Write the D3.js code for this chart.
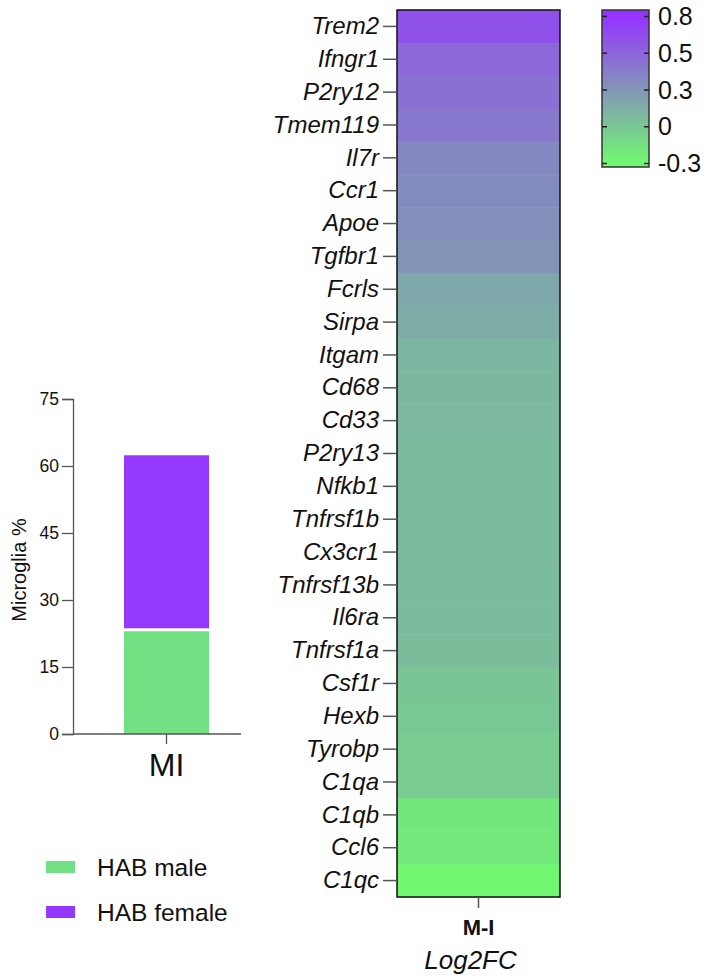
<!DOCTYPE html>
<html>
<head>
<meta charset="utf-8">
<script src="https://cdn.jsdelivr.net/npm/d3@7"></script>
<style>
  html, body { margin: 0; padding: 0; background: #fff; }
  svg { display: block; font-family: "Liberation Sans", Arial, Helvetica, sans-serif; }
</style>
</head>
<body>
<svg id="chart" width="707" height="978"></svg>
<script>
// Stacked bar: share of microglia by group
const barCategories = ["MI"];
const barSeries = ["HAB male", "HAB female"];
const barValues = [[23.0, 39.4]];          // per category, per series
const barColors = ["#73e083", "#9538ff"];
const barTicks = [0, 15, 30, 45, 60, 75];

// Heatmap: log2 fold change per gene
const heatColumns = ["M-I"];
const genes = ["Trem2", "Ifngr1", "P2ry12", "Tmem119", "Il7r", "Ccr1", "Apoe", "Tgfbr1",
  "Fcrls", "Sirpa", "Itgam", "Cd68", "Cd33", "P2ry13", "Nfkb1", "Tnfrsf1b", "Cx3cr1",
  "Tnfrsf13b", "Il6ra", "Tnfrsf1a", "Csf1r", "Hexb", "Tyrobp", "C1qa", "C1qb", "Ccl6", "C1qc"];
const log2fc = [0.64, 0.50, 0.46, 0.415, 0.33, 0.305, 0.28, 0.26,
  0.147, 0.124, 0.068, 0.057, 0.05, 0.045, 0.045, 0.04, 0.04,
  0.035, 0.035, 0.03, -0.01, -0.032, -0.05, -0.054, -0.2, -0.21, -0.29];
const colorDomain = [-0.3, 0.8];
const colorTickValues = [0.8, 0.525, 0.25, -0.025, -0.3];
const colorTickLabels = ["0.8", "0.5", "0.3", "0", "-0.3"];

const svg = d3.select("#chart");
const axisGrey = "#555";
const ink = "#111";

// ---------- Bar chart ----------
const by = d3.scaleLinear().domain([0, 75]).range([734, 399]);
const bx = d3.scaleBand().domain(barCategories).range([73, 260])
  .paddingInner(0).paddingOuter(0.6);

const stackData = barCategories.map((c, i) => {
  const o = { cat: c };
  barSeries.forEach((s, j) => o[s] = barValues[i][j]);
  return o;
});
const stacked = d3.stack().keys(barSeries)(stackData);
const segGap = 3; // white separation between stacked segments

const barG = svg.append("g");
stacked.forEach((layer, j) => {
  barG.selectAll(null).data(layer).enter().append("rect")
    .attr("x", d => bx(d.data.cat))
    .attr("width", bx.bandwidth())
    .attr("y", d => by(d[1]))
    .attr("height", d => by(d[0]) - by(d[1]) - (j > 0 ? segGap : 0))
    .attr("fill", barColors[j]);
});

const yAxis = svg.append("g")
  .attr("transform", "translate(73,0)")
  .call(d3.axisLeft(by).tickValues(barTicks).tickSize(11).tickPadding(3));
yAxis.select(".domain").attr("stroke", axisGrey).attr("stroke-width", 1.3);
yAxis.selectAll(".tick line").attr("stroke", axisGrey).attr("stroke-width", 1.3);
yAxis.selectAll(".tick text").attr("font-size", 17.5).attr("fill", ink)
  .attr("font-family", "Liberation Sans, Arial, sans-serif");

const xAxis = svg.append("g")
  .attr("transform", "translate(0,734)")
  .call(d3.axisBottom(bx).tickSize(10).tickPadding(9));
xAxis.select(".domain").attr("stroke", axisGrey).attr("stroke-width", 1.3)
  .attr("d", "M73,0H241");
xAxis.selectAll(".tick line").attr("stroke", axisGrey).attr("stroke-width", 1.3);
xAxis.selectAll(".tick text").attr("font-size", 32).attr("fill", ink)
  .attr("font-family", "Liberation Sans, Arial, sans-serif").attr("dy", "0.72em");

svg.append("text")
  .attr("transform", "translate(26,570) rotate(-90)")
  .attr("text-anchor", "middle")
  .attr("font-size", 20)
  .attr("fill", ink)
  .text("Microglia %");

// Legend for the bar chart
const legend = svg.append("g");
barSeries.forEach((s, j) => {
  const y0 = 861 + j * 45;
  legend.append("rect").attr("x", 46).attr("y", y0).attr("width", 29).attr("height", 12)
    .attr("fill", barColors[j]);
  legend.append("text").attr("x", 97).attr("y", y0 + 15)
    .attr("font-size", 24.5).attr("fill", ink).text(s);
});

// ---------- Heatmap ----------
const color = d3.scaleLinear().domain(colorDomain).range(["#70f870", "#9533ff"])
  .interpolate(d3.interpolateRgb).clamp(true);
const hx = d3.scaleBand().domain(heatColumns).range([397, 560]);
const hy = d3.scaleBand().domain(genes).range([10, 897]);

const heat = svg.append("g");
heat.selectAll("rect.cell").data(genes.map((g, i) => ({ gene: g, col: heatColumns[0], v: log2fc[i] })))
  .enter().append("rect")
  .attr("class", "cell")
  .attr("x", d => hx(d.col))
  .attr("y", d => hy(d.gene))
  .attr("width", hx.bandwidth())
  .attr("height", hy.bandwidth() + 0.5)
  .attr("fill", d => color(d.v));

heat.append("rect")
  .attr("x", 397).attr("y", 10).attr("width", 163).attr("height", 887)
  .attr("fill", "none").attr("stroke", ink).attr("stroke-width", 1.5);

const hyAxis = svg.append("g")
  .attr("transform", "translate(397,0)")
  .call(d3.axisLeft(hy).tickSize(14).tickPadding(4));
hyAxis.select(".domain").remove();
hyAxis.selectAll(".tick line").attr("stroke", axisGrey).attr("stroke-width", 1.5);
hyAxis.selectAll(".tick text").attr("font-size", 24).attr("font-style", "italic")
  .attr("fill", ink).attr("font-family", "Liberation Sans, Arial, sans-serif");

const hxAxis = svg.append("g")
  .attr("transform", "translate(0,897)")
  .call(d3.axisBottom(hx).tickSize(11).tickPadding(11));
hxAxis.select(".domain").remove();
hxAxis.selectAll(".tick line").attr("stroke", axisGrey).attr("stroke-width", 1.5);
hxAxis.selectAll(".tick text").attr("font-size", 22).attr("font-weight", "bold")
  .attr("fill", ink).attr("font-family", "Liberation Sans, Arial, sans-serif");

svg.append("text")
  .attr("x", hx(heatColumns[0]) + hx.bandwidth() / 2 - 8).attr("y", 969)
  .attr("text-anchor", "middle").attr("font-size", 26).attr("font-style", "italic")
  .attr("fill", ink).text("Log2FC");

// ---------- Colour bar ----------
const cbTop = 10, cbBottom = 167, cbLeft = 602, cbW = 47;
const cy = d3.scaleLinear().domain(colorDomain).range([163, 16]);
const defs = svg.append("defs");
const grad = defs.append("linearGradient").attr("id", "cbGrad")
  .attr("x1", 0).attr("y1", 0).attr("x2", 0).attr("y2", 1);
d3.range(0, 1.0001, 0.05).forEach(t => {
  const yPix = cbTop + t * (cbBottom - cbTop);
  grad.append("stop").attr("offset", t).attr("stop-color", color(cy.invert(yPix)));
});
svg.append("rect").attr("x", cbLeft).attr("y", cbTop).attr("width", cbW)
  .attr("height", cbBottom - cbTop).attr("fill", "url(#cbGrad)")
  .attr("stroke", "#333").attr("stroke-width", 1.5);

const cbAxisL = svg.append("g").attr("transform", `translate(${cbLeft},0)`)
  .call(d3.axisRight(cy).tickValues(colorTickValues).tickSize(5).tickFormat(""));
cbAxisL.select(".domain").remove();
cbAxisL.selectAll(".tick line").attr("stroke", "#222").attr("stroke-width", 1.5);

const cbAxisR = svg.append("g").attr("transform", `translate(${cbLeft + cbW},0)`)
  .call(d3.axisLeft(cy).tickValues(colorTickValues).tickSize(5).tickFormat(""));
cbAxisR.select(".domain").remove();
cbAxisR.selectAll(".tick line").attr("stroke", "#222").attr("stroke-width", 1.5);

svg.append("g").selectAll("text").data(colorTickValues).enter().append("text")
  .attr("x", 658).attr("y", d => cy(d)).attr("dy", "0.36em")
  .attr("font-size", 25).attr("fill", ink)
  .text((d, i) => colorTickLabels[i]);
</script>
</body>
</html>
